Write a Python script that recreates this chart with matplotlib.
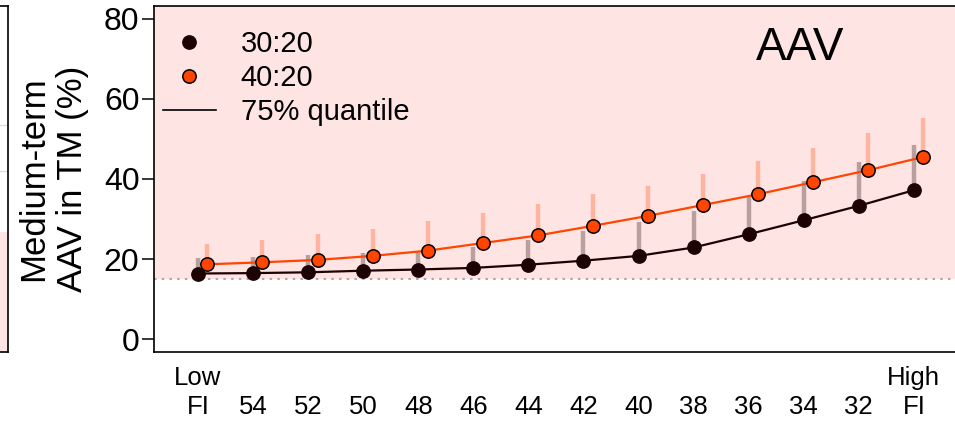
import matplotlib
matplotlib.use("Agg")
import matplotlib.pyplot as plt
from matplotlib.lines import Line2D

plt.rcParams['font.family'] = ['Liberation Sans', 'DejaVu Sans']

# ---- data ----
fi_labels = ["Low\nFI", "54", "52", "50", "48", "46", "44", "42", "40",
             "38", "36", "34", "32", "High\nFI"]
aav_3020 = [16.4, 16.5, 16.7, 17.1, 17.4, 17.8, 18.6, 19.6, 20.8, 22.9, 26.2, 29.7, 33.3, 37.2]
aav_4020 = [18.7, 19.2, 19.8, 20.8, 22.1, 24.0, 25.9, 28.3, 30.8, 33.5, 36.2, 39.2, 42.2, 45.5]
q75_3020 = [20.2, 20.6, 21.0, 21.4, 21.9, 23.0, 24.8, 26.9, 29.3, 32.0, 35.4, 39.5, 44.2, 48.5]
q75_4020 = [23.7, 24.7, 26.2, 27.5, 29.5, 31.5, 33.7, 36.2, 38.3, 41.2, 44.5, 47.7, 51.4, 55.2]
series_names = ["30:20", "40:20"]
threshold = 15
yticks = [0, 20, 40, 60, 80]

# ---- styling ----
W, H = 955, 421
PINK = "#FFE4E4"
DARK = "#1c0202"
ORANGE = "#FF4500"

fig = plt.figure(figsize=(W / 100, H / 100), dpi=100)

ax_left = 154 / W
ax_bottom = (H - 352) / H
ax_height = 346 / H
ax_width = 803.9 / W
ax = fig.add_axes([ax_left, ax_bottom, ax_width, ax_height])

# partial neighbouring panel at far left
ax0 = fig.add_axes([-0.05, ax_bottom, 0.05 + 7.5 / W, ax_height])
ax0.set_xlim(0, 1)
ax0.set_ylim(0, 1)
ax0.axhspan(0, 0.347, color=PINK, lw=0)
for gy in (0.523, 0.656):
    ax0.axhline(gy, color="#dddddd", lw=1)
ax0.set_xticks([])
ax0.set_yticks([])
for s in ax0.spines.values():
    s.set_linewidth(1.2)
    s.set_color("black")

n = len(fi_labels)
xb = [i + 1 for i in range(n)]
xo = [i + 1.17 for i in range(n)]

ax.set_xlim(0.2, 14.8)
ax.set_ylim(-3.2, 83.2)

ax.axhspan(threshold, 100, color=PINK, lw=0, zorder=0)
ax.axhline(threshold, color="#aaaaaa", lw=1.5, ls=(0, (1.2, 2.5)), zorder=1)

ax.vlines(xb, aav_3020, q75_3020, color=DARK, alpha=0.3, lw=3.2, zorder=2)
ax.vlines(xo, aav_4020, q75_4020, color=ORANGE, alpha=0.3, lw=3.2, zorder=2)

ax.plot(xb, aav_3020, color=DARK, lw=1.6, zorder=3)
ax.plot(xb, aav_3020, 'o', color=DARK, ms=9.6, mec=DARK, zorder=4)
ax.plot(xo, aav_4020, color=ORANGE, lw=1.6, zorder=3)
ax.plot(xo, aav_4020, 'o', color=ORANGE, ms=9.6, mec="black", mew=1.1, zorder=5)

# axes styling
ax.spines['right'].set_visible(False)
for s in ('left', 'top', 'bottom'):
    ax.spines[s].set_linewidth(1.2)
ax.set_yticks(yticks)
ax.set_yticklabels([str(v) for v in yticks])
ax.tick_params(axis='y', length=9, width=1.1, labelsize=23, pad=1.5)

ax.set_xticks(xb)
ax.set_xticklabels(["\n" + l if "\n" not in l else l for l in fi_labels],
                   linespacing=1.25)
ax.tick_params(axis='x', which='major', length=0, labelsize=18.5, pad=10)
ax.set_xticks(xb[1:-1], minor=True)
ax.tick_params(axis='x', which='minor', length=12, width=1.1)

fig.text(53 / W, 1 - 179 / H, "Medium-term\nAAV in TM (%)", rotation=90,
         ha='center', va='center', fontsize=25, linespacing=1.2)

fig.text(800 / W, 1 - 48 / H, "AAV", fontsize=33, ha='center', va='center')

handles = [
    Line2D([], [], marker='o', ls='none', color=DARK, ms=9.6, mec=DARK),
    Line2D([], [], marker='o', ls='none', color=ORANGE, ms=9.6, mec='black', mew=1.1),
    Line2D([], [], color='black', lw=1.2),
]
ax.legend(handles, series_names + ["75% quantile"], loc='upper left',
          bbox_to_anchor=(0.0112, 0.93), frameon=False, fontsize=21,
          handlelength=1.8, handletextpad=0.86, labelspacing=0.2,
          borderpad=0, borderaxespad=0)

fig.savefig("out.png", dpi=100)
